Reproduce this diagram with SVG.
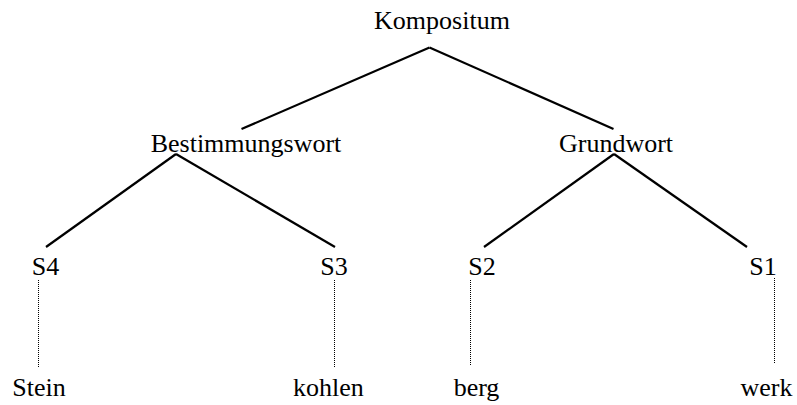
<svg xmlns="http://www.w3.org/2000/svg" width="797" height="405" viewBox="0 0 797 405">
<style>
text{font-family:"Liberation Serif","Times New Roman",serif;font-size:26px;fill:#000;text-anchor:middle}
.e{stroke:#000;stroke-width:2.2;fill:none}
.d{stroke:#000;stroke-width:1;stroke-dasharray:1,1;fill:none}
</style>
<rect width="797" height="405" fill="#fff"/>
<g id="connectors">
<line class="e" x1="429.5" y1="47.5" x2="241.5" y2="129"/>
<line class="e" x1="429.5" y1="47.5" x2="613.5" y2="129"/>
<line class="e" x1="176" y1="154" x2="46" y2="247"/>
<line class="e" x1="176" y1="154" x2="335" y2="247"/>
<line class="e" x1="614" y1="154" x2="484" y2="247"/>
<line class="e" x1="614" y1="154" x2="747" y2="247"/>
<line class="d" x1="38.5" y1="280" x2="38.5" y2="367"/>
<line class="d" x1="334.5" y1="280" x2="334.5" y2="367"/>
<line class="d" x1="470.5" y1="280" x2="470.5" y2="366"/>
<line class="d" x1="774.5" y1="278" x2="774.5" y2="364"/>
</g>
<g id="kompositum"><text x="442" y="29">Kompositum</text></g>
<g id="bestimmungswort"><text x="246" y="152">Bestimmungswort</text></g>
<g id="grundwort"><text x="616" y="152">Grundwort</text></g>
<g id="s4"><text x="45.5" y="275">S4</text></g>
<g id="s3"><text x="334" y="275">S3</text></g>
<g id="s2"><text x="482" y="275">S2</text></g>
<g id="s1"><text x="763" y="275">S1</text></g>
<g id="stein"><text x="39" y="396">Stein</text></g>
<g id="kohlen"><text x="328.5" y="396">kohlen</text></g>
<g id="berg"><text x="476.5" y="396">berg</text></g>
<g id="werk"><text x="766.5" y="396">werk</text></g>
</svg>
